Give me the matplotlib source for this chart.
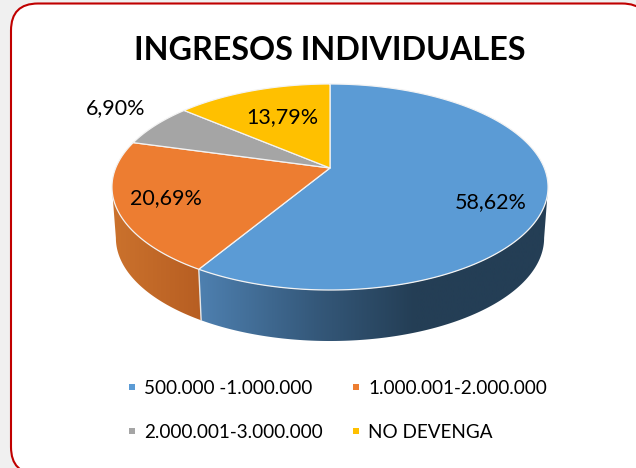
import numpy as np
import matplotlib
matplotlib.use("Agg")
import matplotlib.pyplot as plt
from matplotlib.patches import FancyBboxPatch, Polygon, Rectangle
from matplotlib.colors import LinearSegmentedColormap

plt.rcParams['font.family'] = ['Lato', 'DejaVu Sans']

title = "INGRESOS INDIVIDUALES"
categories = ["500.000 -1.000.000", "1.000.001-2.000.000", "2.000.001-3.000.000", "NO DEVENGA"]
values = [58.62, 20.69, 6.90, 13.79]
labels = ["58,62%", "20,69%", "6,90%", "13,79%"]
colors = ["#5B9BD5", "#ED7D31", "#A5A5A5", "#FFC000"]

W, H = 636, 468
fig = plt.figure(figsize=(W/100, H/100), dpi=100, facecolor="#F0F0F0")
ax = fig.add_axes([0, 0, 1, 1])
ax.set_xlim(0, W); ax.set_ylim(H, 0); ax.axis("off")

ax.add_patch(FancyBboxPatch((11, 3.5), 638, 470.5, boxstyle="round,pad=0,rounding_size=27",
                            fc="white", ec="#C00000", lw=1.5, zorder=1))

# perspective projection of the pie disc
CX, CY, K, B, A = 330.0, 168.0, 0.1845, 99.5, 214.3
DEPTH = 51.0

def proj(theta_deg, drop=0.0, shrink=1.0):
    t = np.radians(theta_deg)
    u, v = np.sin(t), np.cos(t)
    d = 1 + K*v
    return np.column_stack([CX + shrink*A*u/d, CY + drop - B*v/d])

edges = np.concatenate([[0], np.cumsum(values)]) / sum(values) * 360
RIGHT = np.degrees(np.arctan2(np.sqrt(1-K**2), -K))
LEFT = 360 - RIGHT

def side(a0, a1, stops, x0, x1):
    th = np.linspace(a0, a1, 120)
    top = proj(th)
    bot = proj(th, drop=DEPTH, shrink=0.982)
    poly = Polygon(np.vstack([top, bot[::-1]]), closed=True, fc="none", ec="none")
    ax.add_patch(poly)
    cmap = LinearSegmentedColormap.from_list("s", stops)
    g = np.linspace(0, 1, 256)[None, :]
    im = ax.imshow(g, cmap=cmap, extent=(x0, x1, H, 0), aspect="auto", zorder=2, interpolation="bilinear")
    im.set_clip_path(poly)
    ax.set_xlim(0, W); ax.set_ylim(H, 0)

side(RIGHT, edges[1], [(0, "#4E80B0"), (0.33, "#35597B"), (0.62, "#243E55"), (1, "#243E55")], 198, 548)
side(edges[1], LEFT, [(0, "#CB722D"), (1, "#B75E22")], 112, 202)

# bright seam on the side between slices
s0 = proj(np.array([edges[1]]))
s1 = proj(np.array([edges[1]]), drop=DEPTH, shrink=0.982)
ax.plot([s0[0, 0], s1[0, 0]], [s0[0, 1], s1[0, 1]], color="#E6E6E6", lw=1.0, zorder=3)

# top slices
for i, c in enumerate(colors):
    th = np.linspace(edges[i], edges[i+1], 200)
    pts = np.vstack([[CX, CY], proj(th)])
    ax.add_patch(Polygon(pts, closed=True, fc=c, ec="#F3F3F3", lw=0.9, joinstyle="round", zorder=4))

# data labels
label_xy = [(491, 202), (166, 198), (116, 108), (282, 117)]
for (x, y), s in zip(label_xy, labels):
    ax.text(x, y, s, ha="center", va="center", fontsize=15.5, color="black", zorder=6)

ax.text(330, 50, title, ha="center", va="center", fontsize=23.2, fontweight="bold", color="black", zorder=6)

# legend
leg_xy = [(132, 388), (356, 388), (132, 432), (356, 432)]
for (x, y), s, c in zip(leg_xy, categories, colors):
    ax.add_patch(Rectangle((x-3, y-4.5), 6, 6, fc=c, ec="none", zorder=6))
    ax.text(x+12, y, s, ha="left", va="center", fontsize=13.6, color="black", zorder=6)

fig.savefig("out.png", dpi=100, facecolor=fig.get_facecolor())
